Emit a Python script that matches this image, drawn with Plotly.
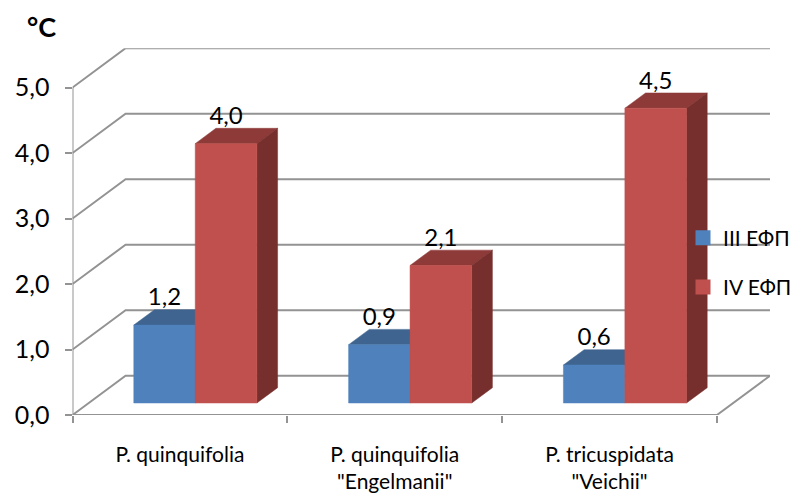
import plotly.graph_objects as go

# ---- data ----
categories = ["P. quinquifolia", 'P. quinquifolia<br>"Engelmanii"', 'P. tricuspidata<br>"Veichii"']
series_names = ["III ЕФП", "IV ЕФП"]
series_iii = [1.19, 0.89, 0.58]
series_iv = [3.96, 2.10, 4.50]
value_ticks = [0, 1, 2, 3, 4, 5]

# ---- oblique projection (in axis units) ----
PAGE = 8                      # default page margin around the figure
W, H = 798 - PAGE, 495 - PAGE
PX_L, PX_R, PX_B, PX_T = 72.5 - PAGE, 770.0 - PAGE, 415.0 - PAGE, 48.2 - PAGE
DX, DY = 0.247, 0.6           # full floor depth expressed in axis units
D0, D1 = 0.305, 0.695         # front and back of bars, as a share of floor depth
BAR_EDGES = (0.21, 0.496, 0.783)
GREY = "#939393"
FONT = "Lato, Carlito, 'Open Sans', sans-serif"
COL = [dict(front="#4F81BD", top="#3E648F", side="#375A84"),
       dict(front="#C0504D", top="#8E3A38", side="#772F2D")]


def proj(x, v, d):
    return x + DX * d, v + DY * d


def face(points, color):
    xs, ys = zip(*points)
    return go.Scatter(x=list(xs) + [xs[0]], y=list(ys) + [ys[0]], mode="lines", fill="toself",
                      fillcolor=color, line=dict(color=color, width=0.5),
                      hoverinfo="skip", showlegend=False)


def line(xs, ys):
    return go.Scatter(x=xs, y=ys, mode="lines", line=dict(color=GREY, width=2),
                      hoverinfo="skip", showlegend=False, cliponaxis=False)


fig = go.Figure()

# wall gridlines with their floor-side returns
for v in value_ticks:
    fig.add_trace(line([0, DX, 3 + DX], [v, v + DY, v + DY]))
# axes and floor edge
fig.add_trace(line([0, 0], [0, value_ticks[-1]]))
fig.add_trace(line([0, 3, 3 + DX], [0, 0, DY]))

# bars
label_x, label_y, label_t = [], [], []
for i in range(len(categories)):
    for s, vals in enumerate((series_iii, series_iv)):
        v = vals[i]
        a, b = i + BAR_EDGES[s], i + BAR_EDGES[s + 1]
        c = COL[s]
        fig.add_trace(face([proj(a, v, D0), proj(b, v, D0), proj(b, v, D1), proj(a, v, D1)], c["top"]))
        fig.add_trace(face([proj(b, 0, D0), proj(b, 0, D1), proj(b, v, D1), proj(b, v, D0)], c["side"]))
        fig.add_trace(face([proj(a, 0, D0), proj(b, 0, D0), proj(b, v, D0), proj(a, v, D0)], c["front"]))
        label_x.append(proj((a + b) / 2, v, D0)[0])
        label_y.append(proj((a + b) / 2, v, D1)[1] - 0.025)
        label_t.append(f"{v:.1f}".replace(".", ","))

fig.add_trace(go.Scatter(x=label_x, y=label_y, text=label_t, mode="text", textposition="top center",
                         textfont=dict(family=FONT, size=24, color="#000000"),
                         hoverinfo="skip", showlegend=False, cliponaxis=False))

# legend entries
for s, name in enumerate(series_names):
    fig.add_trace(go.Scatter(x=[None], y=[None], mode="markers", name=name, legendgroup=name,
                             marker=dict(symbol="square", size=15, color=COL[s]["front"])))

fig.update_layout(
    width=W, height=H, paper_bgcolor="white", plot_bgcolor="white",
    margin=dict(l=0, r=0, t=0, b=0, autoexpand=False),
    font=dict(family=FONT, color="#000000"),
    xaxis=dict(domain=[PX_L / W, PX_R / W], range=[0, 3 + DX], showgrid=False, zeroline=False,
               showline=False, ticks="", tickmode="array", tickvals=[0.5, 1.5, 2.5],
               ticktext=categories, tickfont=dict(family=FONT, size=21), tickangle=0,
               ticklabelstandoff=25,
               minor=dict(ticks="outside", tickmode="array", tickvals=[0, 1, 2, 3],
                          ticklen=7, tickwidth=2, tickcolor=GREY, showgrid=False)),
    yaxis=dict(domain=[(H - PX_B) / H, (H - PX_T) / H], range=[0, 5 + DY], showgrid=False, zeroline=False,
               showline=False, ticks="outside", ticklen=7, tickwidth=2, tickcolor=GREY,
               tickmode="array", tickvals=value_ticks, ticklabelstandoff=10,
               ticktext=[f"{v:.1f}".replace(".", ",") for v in value_ticks],
               tickfont=dict(family=FONT, size=25)),
    legend=dict(x=675 / W, xanchor="left", y=(H - 209.5) / H, yanchor="top", bgcolor="rgba(0,0,0,0)",
                tracegroupgap=19, font=dict(family=FONT, size=21), itemwidth=30),
    annotations=[dict(text="<b>°C</b>", xref="paper", yref="paper", x=33 / W, y=(H - 19) / H,
                      xanchor="center", yanchor="middle", showarrow=False,
                      font=dict(family=FONT, size=27, color="#000000"))],
)

fig.write_html("out.html")
